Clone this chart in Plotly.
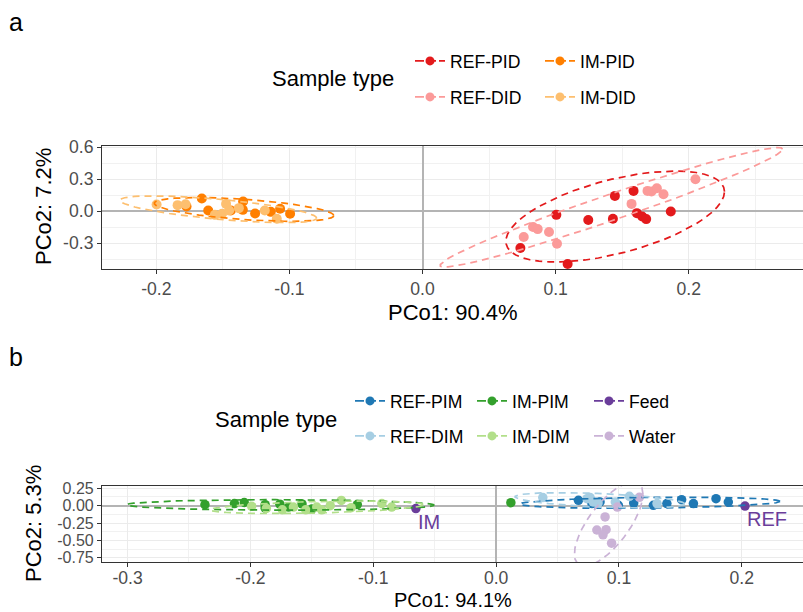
import numpy as np
import plotly.graph_objects as go

# ---------------- data ----------------
# Panel a
ref_pid_x = [0.1005, 0.1245, 0.143, 0.1445, 0.1585, 0.161, 0.165, 0.168, 0.1865, 0.0735, 0.109]
ref_pid_y = [-0.035, -0.084, -0.072, 0.143, 0.19, -0.019, -0.05, -0.075, -0.004, -0.347, -0.497]
ref_did_x = [0.205, 0.172, 0.176, 0.181, 0.169, 0.157, 0.083, 0.0865, 0.095, 0.076, 0.101]
ref_did_y = [0.30, 0.184, 0.215, 0.159, 0.19, 0.068, -0.15, -0.169, -0.197, -0.244, -0.307]
im_pid_x = [-0.1658, -0.1773, -0.161, -0.1348, -0.135, -0.144, -0.1258, -0.114, -0.107, -0.0995]
im_pid_y = [0.118, 0.043, 0.006, 0.09, 0.012, 0.006, -0.022, -0.007, 0.022, -0.025]
im_did_x = [-0.1998, -0.184, -0.178, -0.156, -0.1506, -0.1476, -0.1453, -0.138, -0.1185, -0.1095]
im_did_y = [0.062, 0.056, 0.065, -0.035, -0.025, 0.068, 0.006, 0.028, 0.006, -0.072]

# Panel b
ref_pim_x = [0.067, 0.078, 0.0846, 0.0995, 0.112, 0.128, 0.139, 0.151, 0.1606, 0.179, 0.189]
ref_pim_y = [0.076, 0.03, 0.052, 0.004, 0.037, 0.004, 0.029, 0.086, 0.029, 0.1, 0.052]
ref_dim_x = [0.038, 0.074, 0.0765, 0.079, 0.083, 0.097, 0.1085, 0.131]
ref_dim_y = [0.115, 0.10, 0.115, 0.052, 0.037, 0.052, 0.134, 0.03]
im_pim_x = [-0.237, -0.213, -0.205, -0.188, -0.188, -0.176, -0.169, -0.158, -0.150, -0.113, 0.012]
im_pim_y = [0.014, 0.03, 0.045, 0.013, -0.035, 0.02, -0.02, 0.025, -0.05, 0.015, 0.043]
im_dim_x = [-0.199, -0.187, -0.174, -0.165, -0.155, -0.146, -0.142, -0.135, -0.126, -0.118, -0.093, -0.085]
im_dim_y = [-0.01, -0.04, -0.06, -0.02, -0.06, -0.02, -0.06, 0.0, 0.075, -0.03, 0.03, -0.02]
feed_x = [-0.0653, 0.2026]
feed_y = [-0.043, -0.006]
feed_labels = ["IM", "REF"]
water_x = [0.0887, 0.082, 0.0895, 0.087, 0.094, 0.0987, 0.1166]
water_y = [-0.163, -0.35, -0.345, -0.42, -0.54, -0.02, 0.12]

# tick values / labels
a_xticks = [-0.2, -0.1, 0.0, 0.1, 0.2]
a_xtext = ["-0.2", "-0.1", "0.0", "0.1", "0.2"]
a_yticks = [-0.3, 0.0, 0.3, 0.6]
a_ytext = ["-0.3", "0.0", "0.3", "0.6"]
b_xticks = [-0.3, -0.2, -0.1, 0.0, 0.1, 0.2]
b_xtext = ["-0.3", "-0.2", "-0.1", "0.0", "0.1", "0.2"]
b_yticks = [-0.75, -0.5, -0.25, 0.0, 0.25]
b_ytext = ["-0.75", "-0.50", "-0.25", "0.00", "0.25"]

COL = {
    "REF-PID": "#E31A1C", "REF-DID": "#FB9A99", "IM-PID": "#FF7F00", "IM-DID": "#FDBF6F",
    "REF-PIM": "#1F78B4", "REF-DIM": "#A6CEE3", "IM-PIM": "#33A02C", "IM-DIM": "#B2DF8A",
    "Feed": "#6A3D9A", "Water": "#CAB2D6",
}

W, H = 803, 612


# ---------------- stat_ellipse (type "t", level 0.95) ----------------
def cov_trob(X, nu=5, maxit=25, tol=0.01):
    n, p = X.shape
    loc = X.mean(axis=0)
    w = np.ones(n)
    Xc = X - loc
    for _ in range(maxit):
        w0 = w
        Xc = X - loc
        A = np.sqrt(w / w.sum())[:, None] * Xc
        _, d, Vt = np.linalg.svd(A, full_matrices=False)
        wX = Xc @ Vt.T @ np.diag(1.0 / d)
        Q = (wX ** 2).sum(axis=1)
        w = (nu + p) / (nu + Q)
        loc = (w[:, None] * X).sum(axis=0) / w.sum()
        if np.all(np.abs(w - w0) < tol):
            break
    S = np.sqrt(w)[:, None] * Xc
    return loc, S.T @ S / n


def ellipse(xs, ys, level=0.95, segments=51):
    X = np.column_stack([xs, ys])
    n = X.shape[0]
    center, shape = cov_trob(X)
    dfd = n - 1
    qf = dfd / 2.0 * ((1 - level) ** (-2.0 / dfd) - 1)
    radius = np.sqrt(2 * qf)
    ang = np.arange(segments + 1) * 2 * np.pi / segments
    circ = np.column_stack([np.cos(ang), np.sin(ang)])
    L = np.linalg.cholesky(shape)
    pts = center + radius * (circ @ L.T)
    return pts[:, 0], pts[:, 1]


fig = go.Figure()

DASH = "7px,5px"


def add_group(name, xs, ys, xa, ya, msize):
    fig.add_trace(go.Scatter(x=xs, y=ys, mode="markers", name=name, showlegend=False,
                             marker=dict(color=COL[name], size=msize, line=dict(width=0)),
                             xaxis=xa, yaxis=ya, hoverinfo="skip"))


def add_ellipse(name, xs, ys, xa, ya):
    ex, ey = ellipse(xs, ys)
    fig.add_trace(go.Scatter(x=ex, y=ey, mode="lines", showlegend=False,
                             line=dict(color=COL[name], width=1.7, dash=DASH),
                             xaxis=xa, yaxis=ya, hoverinfo="skip"))


def add_key(name, legend, xa, ya, lw):
    fig.add_trace(go.Scatter(x=[None], y=[None], mode="lines+markers", name=name,
                             legend=legend, legendwidth=lw,
                             line=dict(color=COL[name], width=1.7, dash="9px,3px"),
                             marker=dict(color=COL[name], size=9, line=dict(width=0)),
                             xaxis=xa, yaxis=ya))


# panel a
groups_a = [("REF-PID", ref_pid_x, ref_pid_y), ("REF-DID", ref_did_x, ref_did_y),
            ("IM-PID", im_pid_x, im_pid_y), ("IM-DID", im_did_x, im_did_y)]
for nm, gx, gy in groups_a:
    add_group(nm, gx, gy, "x", "y", 10)
for nm, gx, gy in groups_a:
    add_ellipse(nm, gx, gy, "x", "y")

# panel b
groups_b = [("REF-PIM", ref_pim_x, ref_pim_y), ("REF-DIM", ref_dim_x, ref_dim_y),
            ("IM-PIM", im_pim_x, im_pim_y), ("IM-DIM", im_dim_x, im_dim_y),
            ("Feed", feed_x, feed_y), ("Water", water_x, water_y)]
for nm, gx, gy in groups_b:
    add_group(nm, gx, gy, "x2", "y2", 9.5)
for nm, gx, gy in groups_b:
    if len(gx) > 3:
        add_ellipse(nm, gx, gy, "x2", "y2")

# legend keys
add_key("REF-PID", "legend", "x", "y", 85)
add_key("IM-PID", "legend", "x", "y", 60)
add_key("REF-DID", "legend2", "x", "y", 85)
add_key("IM-DID", "legend2", "x", "y", 60)
add_key("REF-PIM", "legend3", "x2", "y2", 77)
add_key("IM-PIM", "legend3", "x2", "y2", 72)
add_key("Feed", "legend3", "x2", "y2", 50)
add_key("REF-DIM", "legend4", "x2", "y2", 77)
add_key("IM-DIM", "legend4", "x2", "y2", 72)
add_key("Water", "legend4", "x2", "y2", 50)

FONT = "Liberation Sans, Arial, sans-serif"
TICKC = "#4D4D4D"
GRID = "#EBEBEB"
ZERO = "#B4B4B4"


def axis_common(tsize=17.6):
    return dict(showline=True, linecolor="#333333", linewidth=1.1,
                ticks="outside", ticklen=4, tickcolor="#333333", tickwidth=1.1,
                tickfont=dict(family=FONT, size=tsize, color=TICKC),
                showgrid=True, gridcolor=GRID, gridwidth=1.2,
                zeroline=True, zerolinecolor=ZERO, zerolinewidth=1.6,
                tickmode="array", fixedrange=True, automargin=False)


xd = [102 / W, 1.0]
ya_dom = [1 - 269 / H, 1 - 146 / H]
yb_dom = [1 - 562 / H, 1 - 486 / H]
MINC = "#F1F1F1"

xa = axis_common(); xa.update(domain=xd, range=[-0.2408, 0.2858], tickvals=a_xticks, ticktext=a_xtext,
                              mirror=True, anchor="y",
                              minor=dict(tickmode="linear", tick0=0.05, dtick=0.1, showgrid=True,
                                         gridcolor=MINC, gridwidth=0.8, ticks=""))
ya = axis_common(); ya.update(domain=ya_dom, range=[-0.544, 0.612], tickvals=a_yticks, ticktext=a_ytext,
                              anchor="x",
                              minor=dict(tickmode="linear", tick0=0.15, dtick=0.3, showgrid=True,
                                         gridcolor=MINC, gridwidth=0.8, ticks=""))
xb = axis_common(); xb.update(domain=xd, range=[-0.3208, 0.2498], tickvals=b_xticks, ticktext=b_xtext,
                              mirror=True, anchor="y2", ticklabelstandoff=-4,
                              minor=dict(tickmode="linear", tick0=0.05, dtick=0.1, showgrid=True,
                                         gridcolor=MINC, gridwidth=0.8, ticks=""))
yb = axis_common(16); yb.update(domain=yb_dom, range=[-0.81, 0.282], tickvals=b_yticks, ticktext=b_ytext,
                                anchor="x2",
                                minor=dict(tickmode="linear", tick0=0.125, dtick=0.25, showgrid=True,
                                           gridcolor=MINC, gridwidth=0.8, ticks=""))


def leg(xpx, ypx):
    return dict(orientation="h", x=xpx / W, y=1 - ypx / H, xanchor="left", yanchor="middle",
                font=dict(family=FONT, size=17.6, color="#000000"), itemwidth=30,
                bgcolor="rgba(0,0,0,0)", borderwidth=0, traceorder="normal")


def ann(text, xpx, ypx, size, angle=0, color="#000000", xanchor="center"):
    return dict(text=text, x=xpx / W, y=1 - ypx / H, xref="paper", yref="paper",
                xanchor=xanchor, yanchor="middle", showarrow=False, textangle=angle,
                font=dict(family=FONT, size=size, color=color))


annotations = [
    ann("a", 16, 22, 25),
    ann("b", 16, 357, 25),
    ann("Sample type", 333, 78, 22),
    ann("Sample type", 276, 419, 22),
    ann("PCo1: 90.4%", 453, 312, 22),
    ann("PCo2: 7.2%", 43, 207, 22, angle=-90),
    ann("PCo1: 94.1%", 453, 599.5, 20),
    ann("PCo2: 5.3%", 33, 524, 22, angle=-90),
]
for lx, ly, lt in zip(feed_x, feed_y, feed_labels):
    annotations.append(dict(text=lt, x=lx, y=ly, xref="x2", yref="y2", xanchor="left", yanchor="top",
                            showarrow=False, font=dict(family=FONT, size=20, color=COL["Feed"])))

fig.update_layout(
    width=W, height=H, margin=dict(l=0, r=0, t=0, b=0, autoexpand=False),
    paper_bgcolor="white", plot_bgcolor="white",
    font=dict(family=FONT, color="#000000"),
    xaxis=xa, yaxis=ya, xaxis2=xb, yaxis2=yb,
    legend=leg(410, 61), legend2=leg(410, 97), legend3=leg(350, 401), legend4=leg(350, 436),
    annotations=annotations,
    hovermode=False,
)

fig.write_html("out.html")
